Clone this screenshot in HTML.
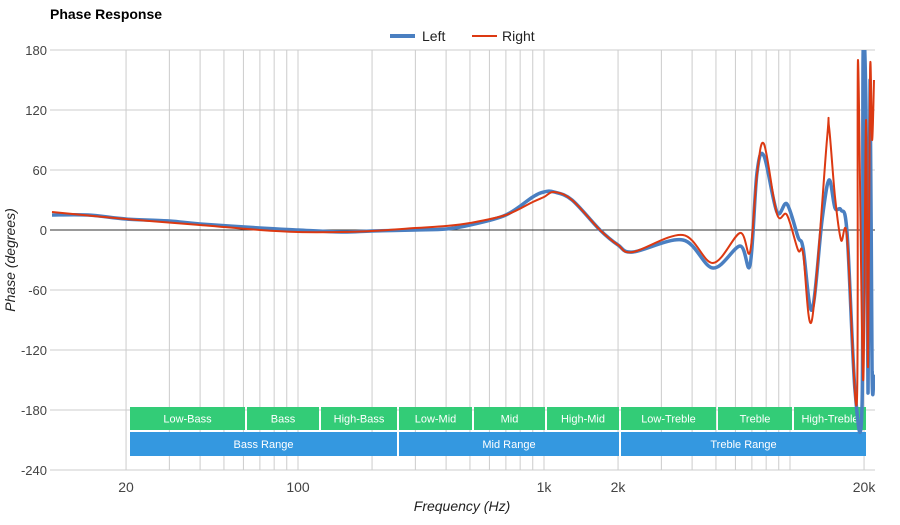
<!DOCTYPE html>
<html><head><meta charset="utf-8"><style>
body{margin:0;background:#fff;width:900px;height:520px;overflow:hidden;font-family:"Liberation Sans",sans-serif}
</style></head><body>
<svg id="chart" width="900" height="520" xmlns="http://www.w3.org/2000/svg" font-family="Liberation Sans, sans-serif">
<text x="50" y="19" font-size="14" font-weight="bold" fill="#000">Phase Response</text>
<g>
<g><line x1="390" y1="36" x2="415" y2="36" stroke="#4a7fc1" stroke-width="4"/><text x="422" y="41" font-size="14" fill="#222">Left</text></g>
<g><line x1="472" y1="36" x2="497" y2="36" stroke="#dc3912" stroke-width="2"/><text x="502" y="41" font-size="14" fill="#222">Right</text></g>
</g>
<g id="grid"></g><g id="bands"></g><g id="series"></g><g id="labels"></g>
<text x="462" y="511" font-size="14" font-style="italic" text-anchor="middle" fill="#222">Frequency (Hz)</text>
<text transform="translate(15,260) rotate(-90)" font-size="14" font-style="italic" text-anchor="middle" fill="#222">Phase (degrees)</text>
</svg>
<script>
const yTicks=[180,120,60,0,-60,-120,-180,-240];
const xTickLabels=["20","100","1k","2k","20k"];
const xTickValues=[20,100,1000,2000,20000];
const gridFreqs=[20,30,40,50,60,70,80,90,100,200,300,400,500,600,700,800,900,1000,2000,3000,4000,5000,6000,7000,8000,9000,10000,20000];
const leftFreq=[10,14,20,30,40,70,100,150,200,300,400,500,700,900,1000,1100,1300,1689,2000,2300,3670,4860,6260,6880,7340,7840,8850,9720,10780,11300,12280,13500,14410,15240,16120,17060,18370,19630,19820,20370,20760,21160,21560,21950];
const leftPhase=[15,15,11,9,6,2,0,-2,-1,0,1,5,15,33,38,38,30,0,-15,-22,-10,-38,-16,-35,57,74,18,26,-7,-18,-80,10,50,22,20,-3,-160,-175,175,120,-163,150,-143,-143];
const rightFreq=[10,20,40,70,100,150,200,300,400,500,700,900,1000,1100,1300,1689,2000,2300,3670,4860,6260,6880,7340,7840,8850,9720,10780,11300,12280,14130,14410,15240,16120,17060,18700,18890,19820,20370,20760,21160,21560,21950];
const rightPhase=[18,11,5,0,-2,-2,-1,2,4,7,15,28,33,38,30,0,-15,-22,-5,-33,-3,-22,55,86,16,15,-20,-23,-90,90,103,33,-10,-8,-172,170,-150,110,-137,160,90,150];
const bandNames=["Low-Bass","Bass","High-Bass","Low-Mid","Mid","High-Mid","Low-Treble","Treble","High-Treble"];
const bandEdges=[[130,245],[247,319],[321,397],[399,472],[474,545],[547,619],[621,716],[718,792],[794,866]];
const rangeNames=["Bass Range","Mid Range","Treble Range"];
const rangeEdges=[[130,397],[399,619],[621,866]];
const NS="http://www.w3.org/2000/svg";
const L=50,R=875,T=50,B=470;
function xs(f){return 298+246*Math.log10(f/100);}
function ys(v){return 230-v;}
function mk(tag,attrs,parent){const e=document.createElementNS(NS,tag);for(const k in attrs)e.setAttribute(k,attrs[k]);parent.appendChild(e);return e;}
const grid=document.getElementById('grid'),labels=document.getElementById('labels'),bands=document.getElementById('bands'),series=document.getElementById('series');
gridFreqs.forEach(f=>{const l=mk('line',{x1:xs(f),x2:xs(f),y1:T,y2:B,stroke:'#ccc','stroke-width':1},grid);

});
yTicks.forEach(v=>{const l=mk('line',{x1:L,x2:R,y1:ys(v),y2:ys(v),stroke:v===0?'#333':'#ccc','stroke-width':1},grid);


const t=mk('text',{x:47,y:ys(v)+5,'font-size':13,'text-anchor':'end',fill:'#444'},labels);t.textContent=v;

});
xTickValues.forEach((f,i)=>{const t=mk('text',{x:xs(f),y:492,'font-size':14,'text-anchor':'middle',fill:'#444'},labels);t.textContent=xTickLabels[i];

});
function band(edges,name,y,h,color,dn){const g=mk('g',{},bands);


mk('rect',{x:edges[0],y:y,width:edges[1]-edges[0],height:h,fill:color},g);
const t=mk('text',{x:(edges[0]+edges[1])/2,y:y+h/2+4,'font-size':11,'text-anchor':'middle',fill:'#fff'},g);t.textContent=name;}
bandNames.forEach((n,i)=>band(bandEdges[i],n,407,23,'#33cc77','band-'+n.toLowerCase()));
rangeNames.forEach((n,i)=>band(rangeEdges[i],n,432,24,'#3498e0',n.toLowerCase().replace(' ','-')));
function pathD(fr,ph){const p=fr.map((f,i)=>[xs(f),ys(ph[i])]);let d='M'+p[0][0]+','+p[0][1];
for(let i=0;i<p.length-1;i++){const p0=p[i-1]||p[i],p1=p[i],p2=p[i+1],p3=p[i+2]||p2;
const c1=[p1[0]+(p2[0]-p0[0])/6,p1[1]+(p2[1]-p0[1])/6],c2=[p2[0]-(p3[0]-p1[0])/6,p2[1]-(p3[1]-p1[1])/6];
d+=' C'+c1+' '+c2+' '+p2;}return d;}
const cp=mk('clipPath',{id:'clip'},series);
mk('rect',{x:L,y:T,width:R-L,height:B-T},cp);
const lp=mk('path',{d:pathD(leftFreq,leftPhase),fill:'none',stroke:'#4a7fc1','stroke-width':3.5,'clip-path':'url(#clip)','stroke-linejoin':'round'},series);


const rp=mk('path',{d:pathD(rightFreq,rightPhase),fill:'none',stroke:'#dc3912','stroke-width':2,'clip-path':'url(#clip)','stroke-linejoin':'round'},series);


</script>
</body></html>
